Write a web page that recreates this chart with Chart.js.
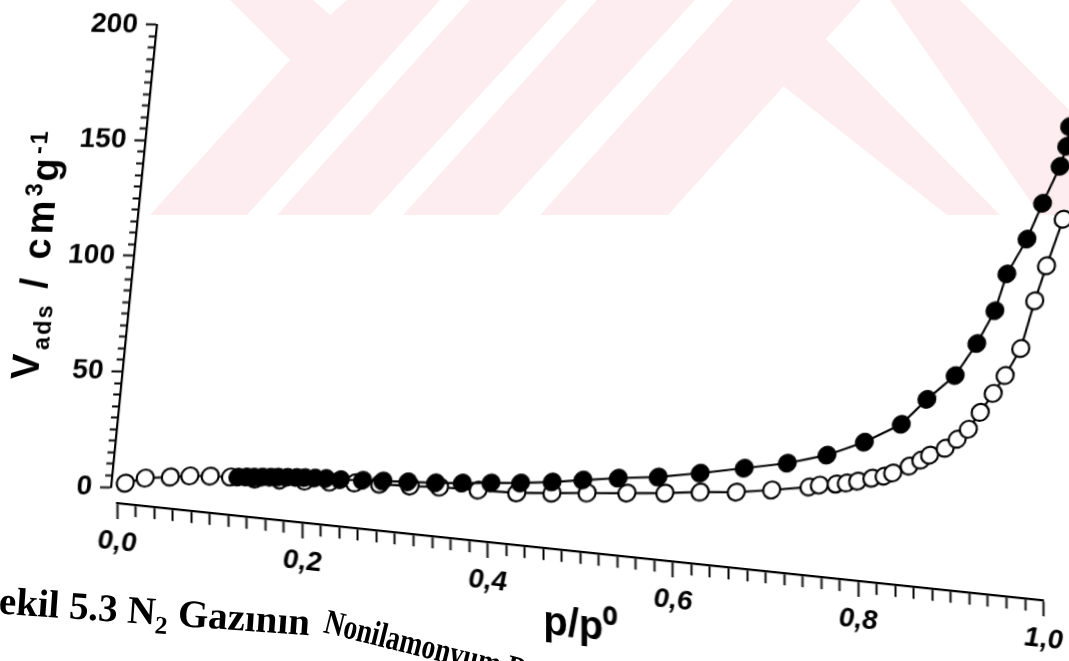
<!DOCTYPE html>
<html>
<head>
<meta charset="utf-8">
<script src="https://cdn.jsdelivr.net/npm/chart.js@4.4.0/dist/chart.umd.min.js"></script>
<style>
  html, body { margin: 0; padding: 0; background: #fff; overflow: hidden; }
  body { width: 1069px; height: 661px; position: relative; }
  #mark { position: absolute; left: 0; top: 0; }
  /* plot panel: slight shear + tilt like the printed figure */
  #plotWrap { position: absolute; left: 0; top: 0; width: 1069px; height: 661px;
    transform-origin: 111px 487px; transform: matrix(1, 0.0185, -0.0991, 1, 0, 0); }
  #plot { position: absolute; left: 0; top: 0; }
  #yTitle { position: absolute; left: 17px; top: 256px; transform: translate(-50%, -50%) rotate(-90deg);
    font: bold 38px "Liberation Sans", Arial, sans-serif; line-height: 1; white-space: nowrap; letter-spacing: 4px; }
  #yTitle sub, #yTitle sup { font-size: 62%; letter-spacing: 2px; }
  /* the p/p0 axis sits on its own sloping strip */
  #axisWrap { position: absolute; left: 0; top: 476px; width: 1069px; height: 130px;
    transform-origin: 117px 27px; transform: matrix(1, 0.105, 0, 1, 0, 0); }
  .caption { position: absolute; transform-origin: 0 0; white-space: nowrap;
    font: bold 39px "Liberation Serif", "Times New Roman", serif; }
  .caption sub { font-size: 65%; }
  #cap1 { left: -21px; top: 576px; transform: rotate(4deg); }
  #cap2 { left: 330px; top: 602px; font-size: 35px; transform: rotate(14deg) scaleX(0.78); }
</style>
</head>
<body>
<svg id="mark" width="1069" height="215" viewBox="0 0 1069 215">
  <g fill="#fdedf0">
    <polygon points="150,215 290,60 230,0 313,0 330,15 347,0 440,0 247,215"/>
    <polygon points="277,215 370,215 567,0 470,0"/>
    <polygon points="403,215 498,215 695,0 597,0"/>
    <polygon points="540,215 668,215 861,0 733,0"/>
    <polygon points="947,215 1000,215 810,23 763,70"/>
    <polygon points="1040,215 1069,215 1069,110 960,0 890,0"/>
  </g>
</svg>

<div id="plotWrap">
  <canvas id="plot" width="1069" height="661"></canvas>
  <div id="yTitle">V<sub>ads</sub> / cm<sup>3</sup>g<sup>-1</sup></div>
</div>

<div id="axisWrap">
  <canvas id="axis" width="1069" height="130"></canvas>
</div>

<div class="caption" id="cap1">Şekil 5.3 N<sub>2</sub> Gazının</div>
<div class="caption" id="cap2">Nonilamonyum B</div>

<script>
// N2 isotherm, p/p0 against adsorbed volume (cm3/g)
const pAds = [0.015, 0.036, 0.063, 0.084, 0.106, 0.128, 0.155, 0.182, 0.209, 0.236, 0.263, 0.290,
  0.323, 0.355, 0.397, 0.439, 0.477, 0.515, 0.558, 0.599, 0.637, 0.676, 0.714, 0.754, 0.765,
  0.783, 0.794, 0.806, 0.821, 0.834, 0.843, 0.860, 0.872, 0.881, 0.897, 0.909, 0.920, 0.931,
  0.943, 0.954, 0.968, 0.978, 0.987, 1.000];
const vAds = [1.8, 4.1, 4.8, 5.4, 5.5, 5.3, 4.6, 4.4, 4.1, 3.9, 3.7, 3.4,
  2.8, 2.6, 1.6, 0.7, 0.9, 1.2, 1.5, 1.8, 2.5, 2.8, 4.0, 5.6, 6.5,
  7.1, 7.6, 8.5, 9.9, 10.9, 12.3, 15.4, 18.1, 20.3, 23.4, 27.4, 31.8, 39.2,
  47.5, 55.3, 67.1, 87.8, 103.0, 123.3];

const pDes = [0.136, 0.145, 0.153, 0.162, 0.171, 0.179, 0.189, 0.199, 0.208, 0.219, 0.231, 0.247,
  0.271, 0.293, 0.320, 0.350, 0.379, 0.410, 0.442, 0.476, 0.509, 0.547, 0.590, 0.635, 0.682,
  0.728, 0.770, 0.809, 0.847, 0.872, 0.900, 0.920, 0.936, 0.945, 0.963, 0.976, 0.991, 0.996, 0.997];
const vDes = [5.3, 5.4, 5.4, 5.5, 5.5, 5.6, 5.6, 5.6, 5.6, 5.5, 5.4, 5.0,
  4.9, 4.8, 4.6, 4.4, 4.5, 4.8, 5.0, 5.7, 6.8, 7.9, 8.7, 10.7, 13.2,
  15.7, 19.5, 25.4, 33.4, 44.4, 54.9, 68.9, 83.2, 99.2, 114.4, 130.0, 146.1, 154.8, 163.4];

const vTickLabels = [0, 50, 100, 150, 200];
const pTickLabels = [0, 0.2, 0.4, 0.6, 0.8, 1.0];

const FONT = '"Liberation Sans", Arial, sans-serif';
const isLabelled = (v, list) => list.some(t => Math.abs(t - v) < 1e-6);
const toPoints = (xs, ys) => xs.map((x, i) => ({ x: x, y: ys[i] }));

new Chart(document.getElementById('plot'), {
  type: 'scatter',
  data: {
    datasets: [
      {
        label: 'desorpsiyon',
        data: toPoints(pDes, vDes),
        showLine: true,
        borderColor: '#000',
        borderWidth: 2.2,
        pointRadius: 9,
        pointBackgroundColor: '#000',
        pointBorderColor: '#000',
        pointBorderWidth: 1,
        clip: false
      },
      {
        label: 'adsorpsiyon',
        data: toPoints(pAds, vAds),
        showLine: true,
        borderColor: '#000',
        borderWidth: 2.2,
        pointRadius: 8.5,
        pointBackgroundColor: '#fff',
        pointBorderColor: '#000',
        pointBorderWidth: 2.2,
        clip: false
      }
    ]
  },
  options: {
    responsive: false,
    animation: false,
    events: [],
    layout: { padding: { left: 0, top: 23, right: 34, bottom: 174 } },
    plugins: { legend: { display: false }, tooltip: { enabled: false } },
    scales: {
      x: { type: 'linear', min: 0, max: 1, display: false },
      y: {
        min: 0,
        max: 200,
        afterFit: s => { s.width = 111; },
        ticks: {
          stepSize: 5,
          autoSkip: false,
          padding: 8,
          color: '#000',
          font: { family: FONT, size: 28, weight: 'bold' },
          callback: v => isLabelled(v, vTickLabels) ? String(v) : ''
        },
        grid: {
          drawOnChartArea: false,
          tickLength: 11,
          tickWidth: 2,
          tickColor: '#000',
          // minor ticks: only the 7px next to the axis line
          tickBorderDash: ctx => (ctx.tick && !isLabelled(ctx.tick.value, vTickLabels)) ? [0, 4, 7, 100] : []
        },
        border: { display: true, color: '#000', width: 2.2 }
      }
    }
  }
});

new Chart(document.getElementById('axis'), {
  type: 'scatter',
  data: { datasets: [] },
  options: {
    responsive: false,
    animation: false,
    events: [],
    layout: { padding: { left: 117, right: 23, top: 0, bottom: 0 } },
    plugins: { legend: { display: false }, tooltip: { enabled: false } },
    scales: {
      y: { display: false },
      x: {
        type: 'linear',
        min: 0,
        max: 1,
        afterFit: s => { s.height = 103; },
        ticks: {
          stepSize: 0.02,
          autoSkip: false,
          maxRotation: 0,
          padding: 6,
          color: '#000',
          font: { family: FONT, size: 28, weight: 'bold', style: 'italic' },
          callback: v => isLabelled(v, pTickLabels) ? v.toFixed(1).replace('.', ',') : ''
        },
        grid: {
          drawOnChartArea: false,
          tickLength: 16,
          tickWidth: 2,
          tickColor: '#000',
          tickBorderDash: ctx => (ctx.tick && !isLabelled(ctx.tick.value, pTickLabels)) ? [11, 100] : []
        },
        border: { display: true, color: '#000', width: 2.2 },
        title: {
          display: true,
          text: 'p/p⁰',
          color: '#000',
          font: { family: FONT, size: 40, weight: 'bold' },
          padding: { top: 0, bottom: 4 }
        }
      }
    }
  }
});
</script>
</body>
</html>
